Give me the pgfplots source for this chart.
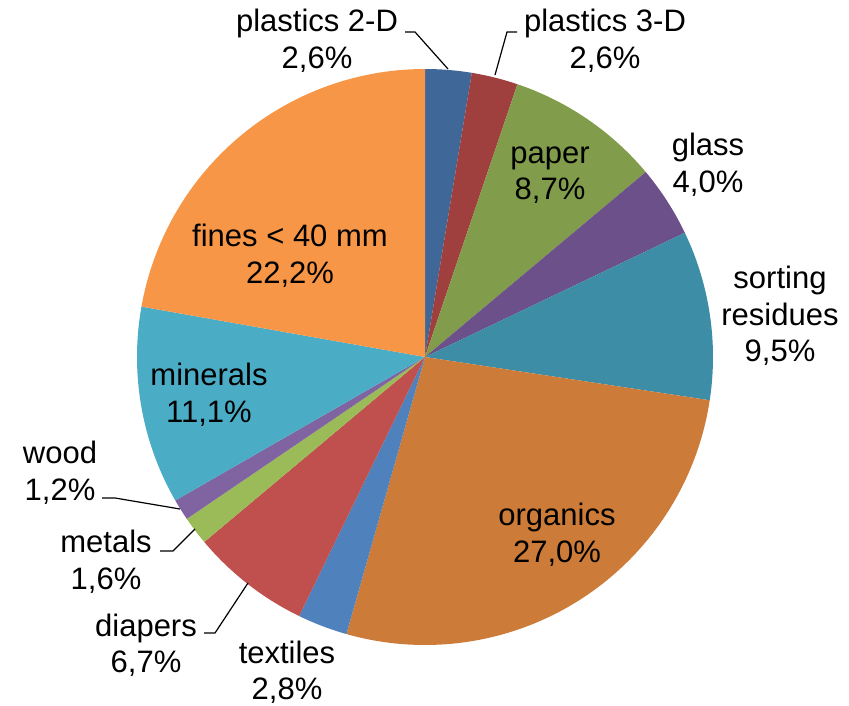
\documentclass[border=0pt]{standalone}
\usepackage{pgfplots}
\pgfplotsset{compat=1.18}
\usepackage{fontspec}
\setmainfont{Liberation Sans}
\definecolor{cA}{HTML}{3F6898}
\definecolor{cB}{HTML}{A0403E}
\definecolor{cC}{HTML}{819C4A}
\definecolor{cD}{HTML}{6B5089}
\definecolor{cE}{HTML}{3D8DA6}
\definecolor{cF}{HTML}{CC7B38}
\definecolor{cG}{HTML}{4F81BD}
\definecolor{cH}{HTML}{C0504D}
\definecolor{cI}{HTML}{9BBB59}
\definecolor{cJ}{HTML}{8064A2}
\definecolor{cK}{HTML}{4BACC6}
\definecolor{cL}{HTML}{F79646}
\tikzset{lbl/.style={font=\fontsize{31}{36.5}\selectfont, align=center, inner sep=0pt}}
\xdef\cum{0}
\begin{document}
\begin{tikzpicture}
\begin{axis}[at={(0,0)}, anchor=south west,
  width=849pt, height=705pt, scale only axis,
  xmin=0, xmax=849, ymin=0, ymax=705,
  hide axis, clip=false]
\foreach \v/\c in {2.6/cA, 2.6/cB, 8.7/cC, 4.0/cD, 9.5/cE, 27.0/cF, 2.8/cG, 6.7/cH, 1.6/cI, 1.2/cJ, 11.1/cK, 22.2/cL}{
  \pgfmathsetmacro\aStart{90-3.6*\cum}
  \pgfmathsetmacro\aEnd{90-3.6*(\cum+\v)}
  \edef\temp{\noexpand\addplot[fill=\c, draw=none, domain=\aEnd:\aStart, samples=90] ({425+288*cos(x)},{348+288*sin(x)}) -- (axis cs:425,348) -- cycle;}
  \temp
  \pgfmathsetmacro\newcum{\cum+\v}
  \xdef\cum{\newcum}
}
% leader lines
\addplot[black, line width=1.2pt] coordinates {(405,673) (415,673) (448,636)};
\addplot[black, line width=1.2pt] coordinates {(517,673) (507,673) (495,630)};
\addplot[black, line width=1.2pt] coordinates {(102,207) (115,207) (180,196)};
\addplot[black, line width=1.2pt] coordinates {(160,154) (173,154) (195,176)};
\addplot[black, line width=1.2pt] coordinates {(204,72) (215,72) (248,122)};
% labels
\node[lbl] at (axis cs:317,664) {plastics 2-D\\2,6\%};
\node[lbl] at (axis cs:605,664) {plastics 3-D\\2,6\%};
\node[lbl] at (axis cs:550,530) {paper\\8,7\%};
\node[lbl] at (axis cs:708,540) {glass\\4,0\%};
\node[lbl] at (axis cs:780,389) {sorting\\residues\\9,5\%};
\node[lbl] at (axis cs:557,170) {organics\\27,0\%};
\node[lbl] at (axis cs:287,33) {textiles\\2,8\%};
\node[lbl] at (axis cs:146,60) {diapers\\6,7\%};
\node[lbl] at (axis cs:106,143) {metals\\1,6\%};
\node[lbl] at (axis cs:60,232) {wood\\1,2\%};
\node[lbl] at (axis cs:209,310) {minerals\\11,1\%};
\node[lbl] at (axis cs:290,449) {fines < 40 mm\\22,2\%};
\end{axis}
\path (0,0) rectangle (849pt,705pt);
\end{tikzpicture}
\end{document}
